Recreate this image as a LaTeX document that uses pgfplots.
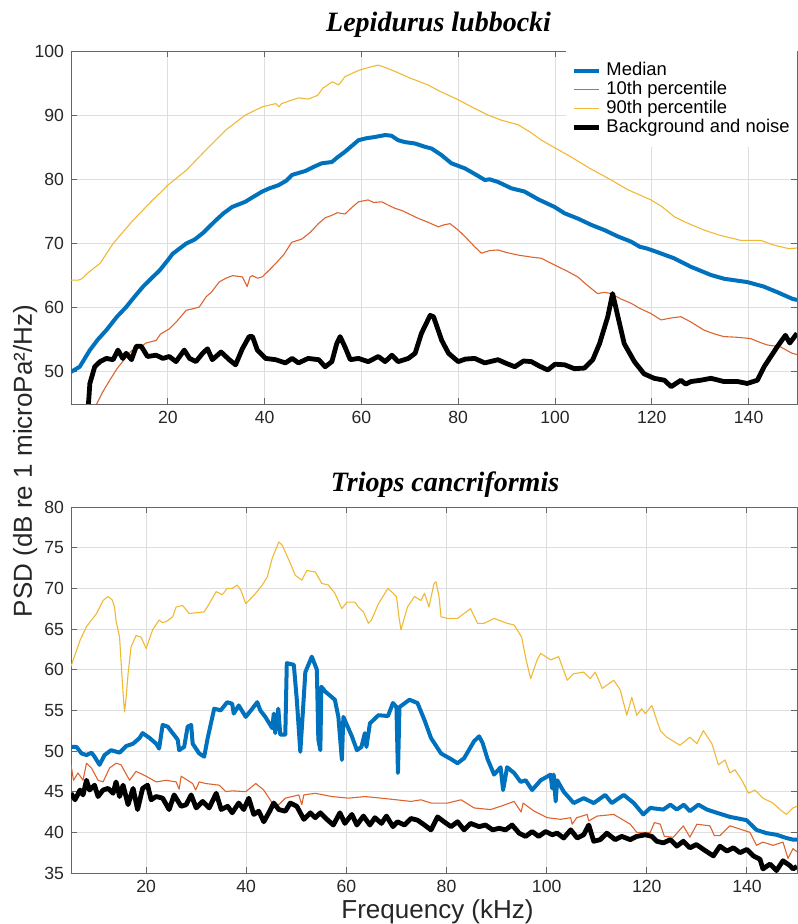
\documentclass[border=0pt]{standalone}
\usepackage{fontspec}
\setmainfont{Liberation Sans}
\newfontfamily\seriffont{Liberation Serif}
\usepackage{pgfplots}
\pgfplotsset{compat=1.18}
\definecolor{mblue}{rgb}{0,0.447,0.741}
\definecolor{morange}{rgb}{0.85,0.325,0.098}
\definecolor{myellow}{rgb}{0.929,0.694,0.125}
\pgfplotsset{
  mystyle/.style={
    scale only axis, width=363pt, xmax=150,
    axis line style={black!60, line width=0.45pt},
    every tick/.style={black!60, line width=0.45pt},
    major tick length=3pt, tick align=inside,
    grid=major, major grid style={black!13, line width=0.45pt},
    tick label style={font=\fontsize{8.8pt}{10pt}\selectfont, text=black!85},
    /pgf/number format/assume math mode=true,
    xtick={20,40,...,140},
    title style={font=\seriffont\bfseries\itshape\fontsize{14pt}{16pt}\selectfont, anchor=base},
    clip=true,
  },
  medstyle/.style={mblue, line width=2pt, line join=round},
  p10style/.style={morange!90!white, line width=0.55pt, line join=round},
  p90style/.style={myellow!90!white, line width=0.55pt, line join=round},
  bgstyle/.style={black, line width=2.4pt, line join=round},
}
\begin{document}
\begin{tikzpicture}
\useasboundingbox (0,0) rectangle (398.5pt,462pt);
% ---------------- top axis ----------------
\begin{axis}[mystyle, at={(35.5pt,260pt)}, anchor=south west,
  height=176.5pt, xmin=0, ymin=45, ymax=100, ytick={50,60,...,100},
  title={Lepidurus lubbocki}, title style={yshift=3.6pt, xshift=2.3pt},
  legend style={at={(1,1)}, anchor=north east, draw=none, fill=white,
    inner xsep=3pt, inner ysep=4.75pt, row sep=-0.5pt, column sep=2pt,
    font=\fontsize{9.2pt}{9.5pt}\selectfont,
    nodes={inner sep=0.5pt, text height=6.8pt, text depth=2.2pt}},
  legend cell align=left,
  legend image code/.code={\draw[#1] (0pt,0pt) -- (12.5pt,0pt);},
]
\addplot[medstyle] coordinates {
(0,50) (1.8,50.8) (3.9,53.4) (5.5,55) (7.3,56.5) (9.5,58.6) (11.4,60.1) (13,61.6) (14.9,63.3) (16.5,64.5) (18.3,65.8) (20,67.4) (21,68.4) (23.8,70) (25.5,70.6) (27.2,71.6) (29.9,73.6) (31.5,74.7) (33.3,75.7) (36,76.5) (37.5,77.2) (39.5,78.1) (41,78.6) (42.9,79.1) (44.5,79.8) (45.7,80.7) (48.4,81.3) (50,81.9) (51.8,82.5) (53.9,82.7) (55,83.4) (56.6,84.3) (58,85.2) (59.4,86.1) (61,86.4) (62.8,86.6) (64.9,86.9) (66.2,86.8) (67.6,86.1) (69,85.8) (71,85.6) (73,85.1) (74.5,84.8) (76.5,83.8) (78.6,82.5) (81.4,81.7) (83.5,80.8) (85.5,79.9) (86.5,80) (88.2,79.6) (91,78.6) (93.7,78.1) (96.5,76.9) (99.9,75.7) (102,74.7) (104.7,73.9) (107.5,72.9) (110.2,72.1) (113,71.1) (115.7,70.3) (117.5,69.5) (119.1,69.2) (121,68.7) (124.6,67.7) (128,66.4) (132.2,65.1) (135,64.5) (139.7,64) (143.1,63.3) (146,62.4) (149,61.4) (150,61.2)
};
\addlegendentry{Median}
\addplot[p10style] coordinates {
(4.8,44.5) (5.3,45) (6.5,46.8) (8,48.7) (9.5,50.5) (11.4,52.3) (12.5,53.3) (14.2,53.8) (15.5,54.5) (17.6,54.9) (18.5,55.9) (20.3,56.7) (22,58) (23.8,59.6) (25,59.8) (26.5,60.1) (27.9,61.7) (29,62.4) (30.6,64) (32,64.6) (33.4,65) (35.4,64.8) (36.4,63.3) (37,64.8) (37.5,65) (38.5,64.6) (39.5,64.8) (41,65.9) (42.3,66.9) (44,68.3) (45.6,70.2) (47.7,70.7) (49.5,71.8) (51.1,73.1) (52.5,74) (53.9,74.4) (55,74.8) (56.6,74.6) (58,75.6) (59.4,76.5) (61.4,76.8) (62.5,76.4) (64.2,76.5) (65.5,76) (66.9,75.5) (68.5,75.1) (71.8,73.9) (73.5,73.4) (75.9,72.6) (77,72.9) (78.3,73.1) (80,72.1) (81.5,71) (83.4,69.5) (84.8,68.5) (86.5,68.9) (88.2,69) (90,68.6) (92.4,68.2) (95,67.9) (97.2,67.7) (99,67) (100.6,66.4) (102.5,65.7) (104.7,64.8) (106.5,63.6) (108.8,62.2) (110.2,62.4) (111.6,62.2) (113.5,61.4) (115.7,60.7) (117.5,59.9) (119.8,59.1) (121.9,58.1) (124,58.4) (126,58.6) (128,57.8) (130.8,56.5) (133,55.9) (134.9,55.5) (137.5,55.4) (140.4,55.2) (142,54.7) (143.8,54.2) (146.6,53.9) (148,53.3) (149,52.9) (150,52.7)
};
\addlegendentry{10th percentile}
\addplot[p90style] coordinates {
(0,64.3) (1.5,64.3) (2.2,64.5) (3.6,65.5) (6,66.9) (8.7,70) (12.8,73.6) (16.9,76.8) (19,78.3) (20,79.1) (23.8,81.4) (27.9,84.6) (32,87.7) (36,90) (39.5,91.3) (42.3,91.8) (43,91.3) (43.5,91.8) (47,92.7) (49,92.5) (51,93.1) (52,94.2) (54,95.2) (55.3,94.7) (56.6,96) (59.5,97) (62.3,97.6) (63.5,97.8) (65,97.4) (67,96.8) (70,95.8) (73.8,94.7) (76,93.8) (80,92.4) (83,91.2) (86.2,90) (89,89.2) (92.4,88.5) (95,87.3) (97.2,86.1) (100,84.9) (103.3,83.5) (107,81.8) (111.6,79.9) (115,78.4) (119.8,76.8) (122,75.8) (124.6,74.2) (127,73.3) (130.8,72.1) (134,71.3) (138.3,70.5) (142.5,70.5) (145,69.8) (148.3,69.2) (150,69.3)
};
\addlegendentry{90th percentile}
\addplot[bgstyle] coordinates {
(3.5,44) (3.7,46) (3.9,48.2) (4.9,50.8) (6,51.6) (7.3,52.1) (8.7,51.9) (9.7,53.4) (10.7,52.1) (11.4,52.9) (12.5,51.9) (13.5,54) (14.5,54) (15.8,52.4) (17.6,52.6) (19,52.1) (20.3,52.4) (21.7,51.6) (23.4,53.4) (24.5,52.1) (25.8,51.6) (27.2,52.9) (28.2,53.6) (29.2,51.9) (31,53.1) (32.7,51.9) (34,51.1) (35.4,53.6) (36.8,55.5) (37.5,55.5) (38.5,53.4) (40.2,52.1) (42.3,51.9) (44.3,51.4) (45.7,52.1) (47,51.4) (49,52.1) (51.2,51.9) (52.5,50.8) (53.9,51.6) (54.9,54.4) (55.6,55.5) (56.6,53.9) (57.7,51.9) (59.4,52.1) (61.4,51.6) (63.5,52.4) (64.9,51.6) (66.3,52.6) (67.6,51.6) (69.7,52.1) (71.1,52.9) (72.4,56) (74.2,58.8) (74.9,58.6) (76.6,54.9) (78,52.9) (80,51.6) (81.5,52) (83.4,52.1) (85.5,51.4) (88.2,51.9) (90,51.3) (91.7,50.8) (93.5,51.7) (95.1,51.6) (96.8,50.9) (98.5,50.3) (100,51.2) (102,51.1) (104,50.5) (106.1,50.6) (107.8,51.9) (109.2,54.4) (110.9,58.6) (111.9,62.2) (113,58.6) (114.3,54.4) (116.4,51.6) (118.4,49.7) (120.5,49) (122.6,48.7) (124,47.7) (126,48.7) (127,48.1) (128.1,48.5) (130.1,48.7) (132.2,49) (134.9,48.5) (137.7,48.5) (139.7,48.2) (141.8,48.7) (143.2,50.8) (145.9,53.9) (147.6,55.7) (148.5,54.5) (150,56)
};
\addlegendentry{Background and noise}
\end{axis}
% ---------------- bottom axis ----------------
\begin{axis}[mystyle, at={(35.5pt,25.5pt)}, anchor=south west,
  height=183pt, xmin=5, ymin=35, ymax=80, ytick={35,40,...,80},
  title={Triops cancriformis}, title style={yshift=1.6pt, xshift=5.5pt},
]
\addplot[p90style] coordinates {
(5,60.4) (6.8,63.6) (8.1,65.3) (10.1,66.9) (11.4,68.5) (12.4,69) (13.2,68.6) (13.7,67.7) (14,66) (14.7,64) (15.1,60) (15.4,57.1) (15.7,54.8) (16,56.5) (16.4,59.5) (17,62.8) (18,64.2) (19,64) (20,62.6) (21.3,64.9) (22.6,66.1) (23.2,65.8) (24,65.9) (25.3,66.5) (26,67.7) (27.3,67.9) (28.6,66.9) (30,67) (31.6,67.1) (32.6,68.1) (34,69.6) (35.2,69.2) (36.2,70) (37.2,70) (38.2,70.4) (38.9,69.8) (39.9,68.1) (41.9,69.4) (43.2,70.4) (44.2,71.4) (45.2,73.7) (46.5,75.7) (47.2,75.3) (48.5,73.5) (49.8,71.6) (51.1,71) (52.1,72.2) (53.8,72) (55.1,70.6) (56.4,70.4) (57.7,69.4) (59.1,67.5) (60.1,68.3) (61.7,68.3) (62.4,67.7) (63.4,67.1) (64.4,65.7) (65,66.1) (66.4,68.1) (68.3,70) (70,69) (70.5,66.5) (70.9,64.9) (72.2,67.7) (73.6,69) (74.9,68.5) (75.6,69.4) (76.5,67.7) (77.5,70.6) (77.9,70.8) (78.5,69) (78.9,66.5) (80.2,66.3) (82.2,66.3) (84.8,67.5) (86.2,65.7) (87.5,65.7) (89.5,66.3) (92.1,65.7) (93.5,65.5) (95,64) (95.9,61.2) (96.8,58.9) (98.1,61.2) (98.8,62) (100.8,61.2) (102.4,61.6) (104.1,58.7) (105.4,59.5) (107.4,59.7) (108.7,58.9) (109.7,59.7) (111.1,57.7) (113.4,58.7) (114.7,57.5) (116,54.4) (117,56.6) (118,54.4) (119,55.2) (119.7,54.6) (121,55.6) (122.7,52.5) (124,51.7) (126.6,50.7) (128.6,51.7) (130,50.9) (131.3,52.5) (133,50.9) (134.3,48.3) (135.6,48.9) (136.6,47.3) (137.6,47.7) (139,46.4) (140.3,44.8) (141.6,45.2) (143.2,44.2) (145.2,43.6) (146.6,42.8) (147.9,42.2) (149.2,43) (150,43.2)
};
\addplot[p10style] coordinates {
(5,48.3) (5.5,46.4) (6.4,47.3) (7.4,46.4) (8.1,48.5) (9.1,47.9) (10.4,46.4) (11.4,46.2) (12.7,47.9) (14,48.5) (15,48.3) (16.7,46.4) (18,47.5) (20,46.9) (22,46.2) (24,46.4) (26,46.2) (26.6,45.3) (27,46.9) (29.3,46) (29.9,45.2) (30.6,46.2) (31.9,46) (34.6,45.8) (35.9,45) (37.2,45.1) (39.9,45) (41.9,46) (43.5,45.2) (45.2,43.6) (46.5,43.4) (47.8,44.2) (50.5,44.6) (51.1,43.4) (51.5,44.6) (53.8,44.8) (57.1,44.4) (60.4,44.2) (63.7,44.4) (67,44.2) (70,44) (72.9,43.8) (74.9,44) (76.9,43.6) (80.2,43.6) (82.9,44) (85.5,43) (88.8,42.8) (90.8,43.2) (93.5,43.8) (94.9,42.5) (95.3,43.6) (97.5,42.6) (100.1,41.8) (102.8,41.6) (104.8,41.8) (105.1,41) (106,41.8) (108.1,42.2) (108.4,41.4) (110.1,42) (113.4,42.2) (116.7,41) (118,40) (120.7,40) (121.5,41.2) (122.7,41) (123.5,39.5) (125.3,39.4) (127.3,40.8) (128.6,39.4) (130,41) (132.6,40.8) (133.5,39.6) (134.6,39.6) (136.6,40.8) (138.6,40.4) (140.6,40) (141.9,38.4) (143.2,38.8) (145.2,38.4) (147.2,38.8) (148.2,36.8) (149.2,38) (150,37.6)
};
\addplot[medstyle] coordinates {
(5,50.5) (6.1,50.5) (7.1,49.7) (8.1,49.5) (9.1,49.8) (9.7,49.3) (10.7,48.3) (11.7,49.5) (13,50.1) (14.7,49.8) (16,50.6) (17.4,50.9) (18.7,51.6) (19.3,52.2) (20.7,51.6) (22,50.9) (22.6,50.3) (23.3,53.2) (24.3,53) (25.3,52.2) (26.3,51.4) (26.6,50.1) (27.6,50.5) (28.3,53) (29,53.2) (29.3,50.9) (30.6,49.7) (31.6,49.3) (32.3,51.6) (33.6,55.2) (34.9,55) (36.2,56) (37.2,55.8) (37.5,54.6) (38.5,55.6) (39.9,54.2) (41.2,55.2) (42.2,56) (42.8,55) (43.8,54.2) (45.2,52.8) (45.5,54.6) (45.8,52.2) (46.4,55.2) (46.8,52) (47.8,52) (48.1,60.8) (49.5,60.6) (50.1,56.3) (50.8,49.9) (51.5,56.7) (51.8,59.7) (53.1,61.6) (54.1,60) (54.4,51.4) (54.8,50.1) (55,57.9) (55.8,57.3) (57.7,56.3) (58.4,54.2) (59.1,48.9) (59.4,54.2) (61.1,51.8) (62.1,50.1) (63,50.5) (63.7,52.2) (64,50.5) (64.7,53.4) (66.4,54.4) (68.3,54.3) (69.3,55.9) (70,55.4) (70.3,47.3) (70.6,55.4) (72.6,56.3) (74.2,55.9) (75.6,53.8) (76.9,51.6) (78.9,49.7) (80.9,49) (82.2,48.5) (83.5,49.1) (85.5,51.2) (86.5,51.8) (87.2,51) (88.2,49) (89.5,47.1) (90.8,48) (91.3,45.2) (92.1,48) (93.5,47.3) (94.8,46.2) (95.8,46.4) (97.1,45.2) (98.8,46.4) (100.8,47.1) (101.1,45.4) (101.4,47.1) (101.8,43.8) (102.1,46.4) (103.4,45) (105.4,43.6) (107.4,44.2) (109.4,43.6) (111.7,44.6) (113,43.6) (115.4,44.6) (117.4,43.6) (119.3,42.2) (120.7,43) (123.3,42.8) (124.7,43.4) (126,42.8) (127.4,43.4) (128.6,42.6) (130.3,43.4) (132,42.8) (134,42.4) (136.6,41.9) (139.9,41.5) (141.9,40.3) (143.9,39.9) (145.9,39.7) (147.9,39.3) (149.2,39.1) (150,39.1)
};
\addplot[bgstyle] coordinates {
(5,44.8) (5.8,44) (6.8,45.2) (7.4,44.6) (8.1,46.4) (8.7,45.2) (9.7,45.8) (10.4,44.4) (11.4,45.2) (12.4,45.4) (13.4,44.8) (14,46.2) (14.7,44.4) (15.4,45.8) (16.4,43.4) (17.4,45.4) (18.3,42.8) (19.3,45.4) (20.3,45.8) (21,44) (22,44.4) (23.3,44.2) (24.6,42.8) (25.6,44.6) (27,43.2) (28,43.4) (29,44.6) (30,43) (31.3,43.8) (32.6,43) (34,44.8) (35,42.8) (36.3,43.2) (37.2,42.4) (38.5,43.6) (39.5,42.8) (40.5,44.2) (41.5,42.2) (42.5,42.6) (43.5,41.3) (44.5,42.4) (45.5,43.6) (46.5,42.8) (47.8,42.6) (48.8,43.6) (50.1,43.2) (51.5,41.6) (52.8,42.4) (53.8,41.8) (54.8,42.4) (56.1,41.6) (57.4,40.9) (58.7,42.4) (59.7,41.1) (61.1,42.2) (62.1,40.9) (63.4,42) (64.7,40.9) (65.7,41.8) (67,41.1) (68,42) (69.3,40.7) (70.2,41.3) (71.6,40.9) (72.9,41.7) (74.2,41.5) (75.6,40.9) (76.9,40.3) (78.2,41.9) (79.5,41.3) (80.9,40.7) (82.2,41.3) (83.5,40.3) (84.8,41.1) (86.5,40.7) (87.8,40.9) (89.2,40.3) (90.5,40.5) (91.8,40.3) (93.1,40.9) (94.5,39.9) (95.8,39.5) (97.1,40.1) (98.4,39.5) (99.8,40.1) (101.1,39.7) (102.1,39.9) (103.4,39.3) (104.8,40.3) (106.1,39.3) (107.4,39.7) (108.4,40.9) (109.4,38.9) (110.7,39.1) (112,39.9) (113.7,39.1) (115,39.5) (116.7,39.1) (118,39.5) (119.7,39.7) (121,39.5) (122,38.9) (123.3,38.7) (124.7,39.1) (126,38.3) (127.3,38.9) (128.6,38.1) (129.9,38.5) (131.3,37.9) (133.3,37.1) (134.6,38.3) (136,37.7) (137.3,38.1) (138.6,37.5) (140,37.9) (141.3,37.1) (142.6,36.7) (143.2,35.5) (144.6,36.1) (145.9,35.3) (147.2,36.5) (148.6,35.9) (149.2,35.5) (150,35.8)
};
\end{axis}
\node[rotate=90, anchor=base, font=\fontsize{13pt}{15pt}\selectfont, text=black!85] at (16pt,231.5pt) {PSD (dB re 1 microPa²/Hz)};
\node[anchor=base, font=\fontsize{13pt}{15pt}\selectfont, text=black!85] at (218.75pt,2.5pt) {Frequency (kHz)};
\end{tikzpicture}
\end{document}
